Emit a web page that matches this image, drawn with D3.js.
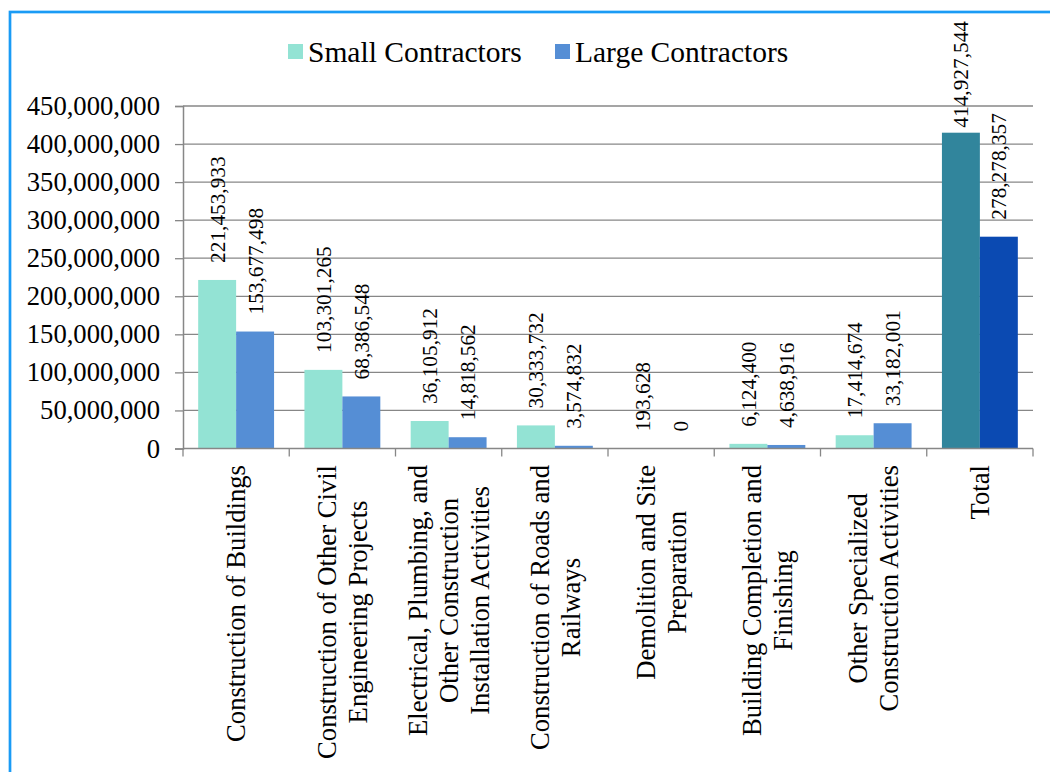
<!DOCTYPE html>
<html>
<head>
<meta charset="utf-8">
<script src="https://cdn.jsdelivr.net/npm/d3@7/dist/d3.min.js"></script>
<style>
  html, body { margin: 0; padding: 0; background: #ffffff; }
  svg { display: block; }
  text { font-family: "Liberation Serif", "Times New Roman", serif; fill: #000; }
</style>
</head>
<body>
<svg id="chart" width="1050" height="772"></svg>
<script>
// Contract values by construction activity (value of work, local currency)
const categories = [
  "Construction of Buildings",
  "Construction of Other Civil Engineering Projects",
  "Electrical, Plumbing, and Other Construction Installation Activities",
  "Construction of Roads and Railways",
  "Demolition and Site Preparation",
  "Building Completion and Finishing",
  "Other Specialized Construction Activities",
  "Total"
];
// Wrapped axis label lines, one list per category
const categoryLines = [
  ["Construction of Buildings"],
  ["Construction of Other Civil", "Engineering Projects"],
  ["Electrical, Plumbing, and", "Other Construction", "Installation Activities"],
  ["Construction of Roads and", "Railways"],
  ["Demolition and Site", "Preparation"],
  ["Building Completion and", "Finishing"],
  ["Other Specialized", "Construction Activities"],
  ["Total"]
];
const seriesNames = ["Small Contractors", "Large Contractors"];
const smallValues = [221453933, 103301265, 36105912, 30333732, 193628, 6124400, 17414674, 414927544];
const largeValues = [153677498, 68386548, 14818562, 3574832, 0, 4638916, 33182001, 278278357];
const yTicks = [0, 50000000, 100000000, 150000000, 200000000, 250000000, 300000000, 350000000, 400000000, 450000000];

const seriesColors = ["#93E3D4", "#558ED5"];
const totalColors = ["#31859C", "#0B4AB2"];
const gridColor = "#878787";
const serif = '"Liberation Serif", "Times New Roman", serif';

const svg = d3.select("#chart");

// Outer frame (only the top and left edges fall inside the view)
svg.append("rect")
  .attr("x", 10).attr("y", 12)
  .attr("width", 1200).attr("height", 900)
  .attr("fill", "none")
  .attr("stroke", "#1A9BF5")
  .attr("stroke-width", 2.7);

const plot = { left: 183, right: 1033, top: 106, bottom: 448.5 };

const x0 = d3.scaleBand().domain(categories).range([plot.left, plot.right]).padding(0);
const x1 = d3.scaleBand().domain(seriesNames).range([0, x0.bandwidth()]).paddingInner(0).paddingOuter(0.4);
const y = d3.scaleLinear().domain([0, 450000000]).range([plot.bottom, plot.top]);

const fmt = d3.format(",");

// Horizontal gridlines
svg.append("g")
  .selectAll("line")
  .data(yTicks.slice(1))
  .join("line")
  .attr("x1", plot.left).attr("x2", plot.right)
  .attr("y1", d => y(d)).attr("y2", d => y(d))
  .attr("stroke", gridColor).attr("stroke-width", 1.3);

// Y axis
const yAxis = svg.append("g")
  .attr("transform", `translate(${plot.left},0)`)
  .call(d3.axisLeft(y).tickValues(yTicks).tickFormat(fmt).tickSize(8).tickPadding(15));
yAxis.select(".domain").attr("stroke", gridColor).attr("stroke-width", 1.5);
yAxis.selectAll(".tick line").attr("stroke", gridColor).attr("stroke-width", 1.3);
yAxis.selectAll(".tick text")
  .attr("font-family", serif)
  .attr("font-size", "26.67px")
  .attr("fill", "#000");

// Bars
const rows = categories.map((c, i) => ({
  category: c,
  index: i,
  values: [
    { series: seriesNames[0], value: smallValues[i], s: 0 },
    { series: seriesNames[1], value: largeValues[i], s: 1 }
  ]
}));

const groups = svg.append("g").selectAll("g")
  .data(rows)
  .join("g")
  .attr("transform", d => `translate(${x0(d.category)},0)`);

groups.selectAll("rect")
  .data(d => d.values.map(v => ({ ...v, total: d.category === "Total" })))
  .join("rect")
  .attr("x", d => x1(d.series))
  .attr("width", x1.bandwidth())
  .attr("y", d => y(d.value))
  .attr("height", d => y(0) - y(d.value))
  .attr("fill", d => d.total ? totalColors[d.s] : seriesColors[d.s]);

// X axis line with ticks at category boundaries
const xAxis = svg.append("g");
xAxis.append("line")
  .attr("x1", plot.left).attr("x2", plot.right)
  .attr("y1", y(0)).attr("y2", y(0))
  .attr("stroke", gridColor).attr("stroke-width", 1.5);
const boundaries = categories.map(c => x0(c)).concat([x0(categories[categories.length - 1]) + x0.bandwidth()]);
xAxis.selectAll("line.tick")
  .data(boundaries)
  .join("line")
  .attr("class", "tick")
  .attr("x1", d => d).attr("x2", d => d)
  .attr("y1", y(0)).attr("y2", y(0) + 8)
  .attr("stroke", gridColor).attr("stroke-width", 1.3);

// Value labels, rotated, sitting above each bar
const labelGap = 17;
const labelTopLimit = 21;
groups.each(function(row) {
  const g = d3.select(this);
  row.values.forEach(v => {
    const cx = x1(v.series) + x1.bandwidth() / 2;
    const t = g.append("text")
      .attr("font-family", serif)
      .attr("font-size", "21.33px")
      .attr("text-anchor", "start")
      .attr("dy", "0.35em")
      .text(fmt(v.value));
    const len = t.node().getComputedTextLength();
    let base = y(v.value) - labelGap;
    if (base - len < labelTopLimit) base = labelTopLimit + len;
    t.attr("transform", `translate(${cx},${base}) rotate(-90)`);
  });
});

// Category labels, rotated and wrapped, centered under each category
const labelTop = 465;
const lineStep = 31;
categoryLines.forEach((lines, i) => {
  const cx = x0(categories[i]) + x0.bandwidth() / 2;
  const g = svg.append("g");
  const texts = lines.map(l => g.append("text")
    .attr("font-family", serif)
    .attr("font-size", "26.67px")
    .attr("text-anchor", "middle")
    .attr("dy", "0.35em")
    .text(l));
  const maxLen = d3.max(texts, t => t.node().getComputedTextLength());
  const cy = labelTop + maxLen / 2;
  texts.forEach((t, j) => {
    const off = (j - (lines.length - 1) / 2) * lineStep;
    t.attr("transform", `translate(${cx + off},${cy}) rotate(-90)`);
  });
});

// Legend
const legend = svg.append("g");
const legendItems = [
  { name: seriesNames[0], color: seriesColors[0], x: 288 },
  { name: seriesNames[1], color: seriesColors[1], x: 555 }
];
legendItems.forEach(it => {
  legend.append("rect")
    .attr("x", it.x).attr("y", 44)
    .attr("width", 15).attr("height", 15)
    .attr("fill", it.color);
  legend.append("text")
    .attr("x", it.x + 20).attr("y", 62)
    .attr("font-family", serif)
    .attr("font-size", "29.5px")
    .text(it.name);
});
</script>
</body>
</html>
